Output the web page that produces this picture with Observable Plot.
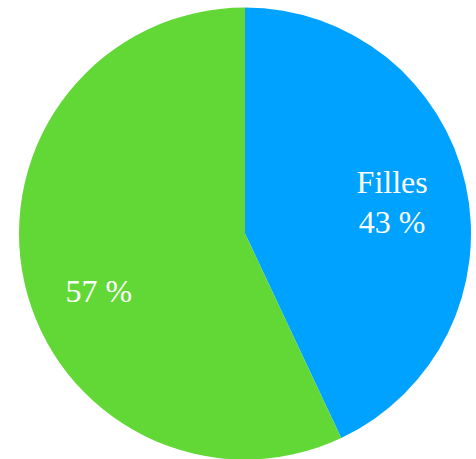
<!DOCTYPE html>
<html>
<head>
<meta charset="utf-8">
<script src="https://cdn.jsdelivr.net/npm/d3@7"></script>
<script src="https://cdn.jsdelivr.net/npm/@observablehq/plot@0.6"></script>
<style>
  html, body { margin: 0; padding: 0; background: #fff; }
</style>
</head>
<body>
<div id="chart"></div>
<script>
// Répartition filles / garçons
const categories = ["Filles", "Garçons"];
const shares = [43, 57];
const labels = ["Filles\n43 %", "57 %"];
const colors = ["#00a2ff", "#61d836"];

const rows = categories.map((c, i) => ({category: c, share: shares[i], label: labels[i]}));

// Angles of each slice, clockwise from 12 o'clock
const slices = d3.pie().sort(null).value(d => d.share)(rows);

// Label anchor at the slice's mid-angle, in the unit-circle coordinates of the x/y scales
const labelRadius = 0.665;
const labelRows = slices.map(s => {
  const mid = (s.startAngle + s.endAngle) / 2;
  return {...s.data, x: labelRadius * Math.sin(mid), y: labelRadius * Math.cos(mid)};
});

// Pie slices drawn with the plot's own x, y and color scales
function pieSlices(index, scales) {
  const cx = scales.x(0), cy = scales.y(0);
  const r = scales.x(1) - scales.x(0);
  const arc = d3.arc().innerRadius(0).outerRadius(r);
  const fillOf = (d, i) => scales.color ? scales.color(d.data.category) : colors[i];
  const g = d3.create("svg:g").attr("transform", `translate(${cx},${cy})`);
  g.selectAll("path")
    .data(slices)
    .join("path")
    .attr("d", arc)
    .attr("fill", fillOf);
  return g.node();
}

const textStyle = {
  x: "x", y: "y", text: "label",
  fill: "white", fontFamily: "'Liberation Serif', 'Times New Roman', serif",
  fontSize: 32, lineHeight: 1.25, textAnchor: "middle"
};

const chart = Plot.plot({
  width: 476,
  height: 459,
  margin: 0,
  x: {domain: [-1, 1], range: [19, 471], axis: null},
  y: {domain: [-1, 1], range: [459.5, 7.5], axis: null},
  color: {domain: categories, range: colors},
  marks: [
    pieSlices,
    Plot.text(labelRows.filter(d => d.category === "Filles"), {...textStyle, dy: -1}),
    Plot.text(labelRows.filter(d => d.category === "Garçons"), {...textStyle, dy: 22})
  ]
});

document.getElementById("chart").appendChild(chart);
</script>
</body>
</html>
